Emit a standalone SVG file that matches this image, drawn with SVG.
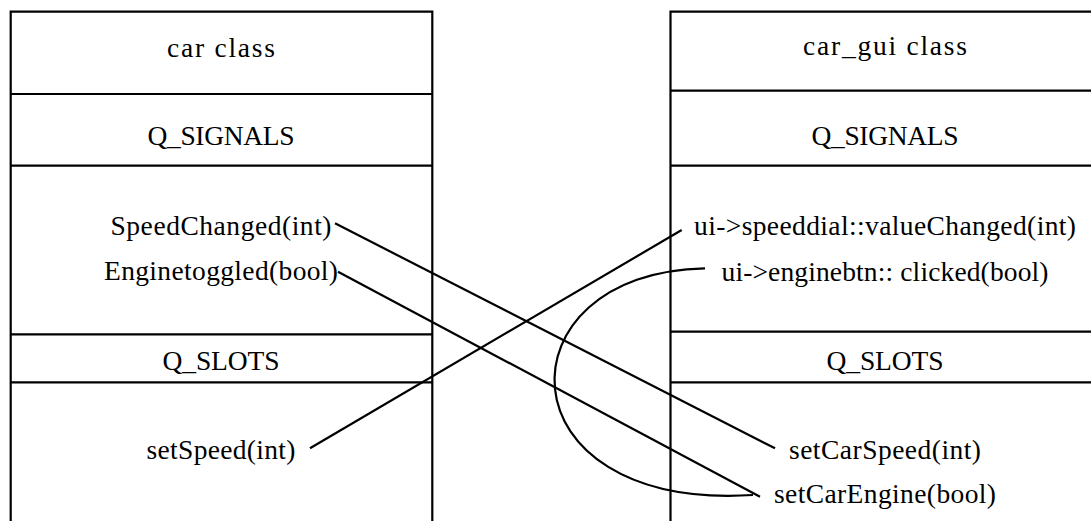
<svg xmlns="http://www.w3.org/2000/svg" width="1091" height="521" viewBox="0 0 1091 521">
  <style>
    .frame { fill: none; stroke: #000; stroke-width: 2.2; }
    .wire { fill: none; stroke: #000; stroke-width: 2.2; stroke-linecap: butt; }
    text { font-family: "Liberation Serif", "Times New Roman", serif; font-size: 27.5px; fill: #000; text-anchor: middle; }
  </style>
  <rect width="1091" height="521" fill="#fff"/>

  <!-- car class -->
  <g id="car">
    <path class="frame" d="M10.7,530 V11.7 H432.3 V530"/>
    <path class="frame" d="M10.7,94 H432.3 M10.7,165.7 H432.3 M10.7,334.3 H432.3 M10.7,382.3 H432.3"/>
    <text x="221" y="57" textLength="108" lengthAdjust="spacing">car class</text>
    <text x="221" y="145" textLength="147" lengthAdjust="spacing">Q_SIGNALS</text>
    <text x="221" y="235" textLength="221" lengthAdjust="spacing">SpeedChanged(int)</text>
    <text x="221" y="280" textLength="234" lengthAdjust="spacing">Enginetoggled(bool)</text>
    <text x="221" y="370" textLength="117" lengthAdjust="spacing">Q_SLOTS</text>
    <text x="221" y="459" textLength="149" lengthAdjust="spacing">setSpeed(int)</text>
  </g>

  <!-- car_gui class -->
  <g id="car_gui">
    <path class="frame" d="M670.5,530 V11.7 H1100"/>
    <path class="frame" d="M670.5,90.7 H1100 M670.5,165.7 H1100 M670.5,331.7 H1100 M670.5,382.3 H1100"/>
    <text x="885" y="55" textLength="164" lengthAdjust="spacing">car_gui class</text>
    <text x="885" y="145" textLength="147" lengthAdjust="spacing">Q_SIGNALS</text>
    <text x="885" y="235" textLength="382" lengthAdjust="spacing">ui-&gt;speeddial::valueChanged(int)</text>
    <text x="885" y="281" textLength="327" lengthAdjust="spacing">ui-&gt;enginebtn:: clicked(bool)</text>
    <text x="885" y="370" textLength="117" lengthAdjust="spacing">Q_SLOTS</text>
    <text x="885" y="459" textLength="192" lengthAdjust="spacing">setCarSpeed(int)</text>
    <text x="885" y="503" textLength="222" lengthAdjust="spacing">setCarEngine(bool)</text>
  </g>

  <!-- signal/slot connections -->
  <g id="connectors">
    <line class="wire" x1="335" y1="223.3" x2="775" y2="448.3"/>
    <line class="wire" x1="338" y1="271.7" x2="760" y2="496.7"/>
    <line class="wire" x1="310" y1="448.3" x2="681.7" y2="230"/>
    <path class="wire" d="M705,268.3 C497,272 497,511 753,495"/>
  </g>
</svg>
